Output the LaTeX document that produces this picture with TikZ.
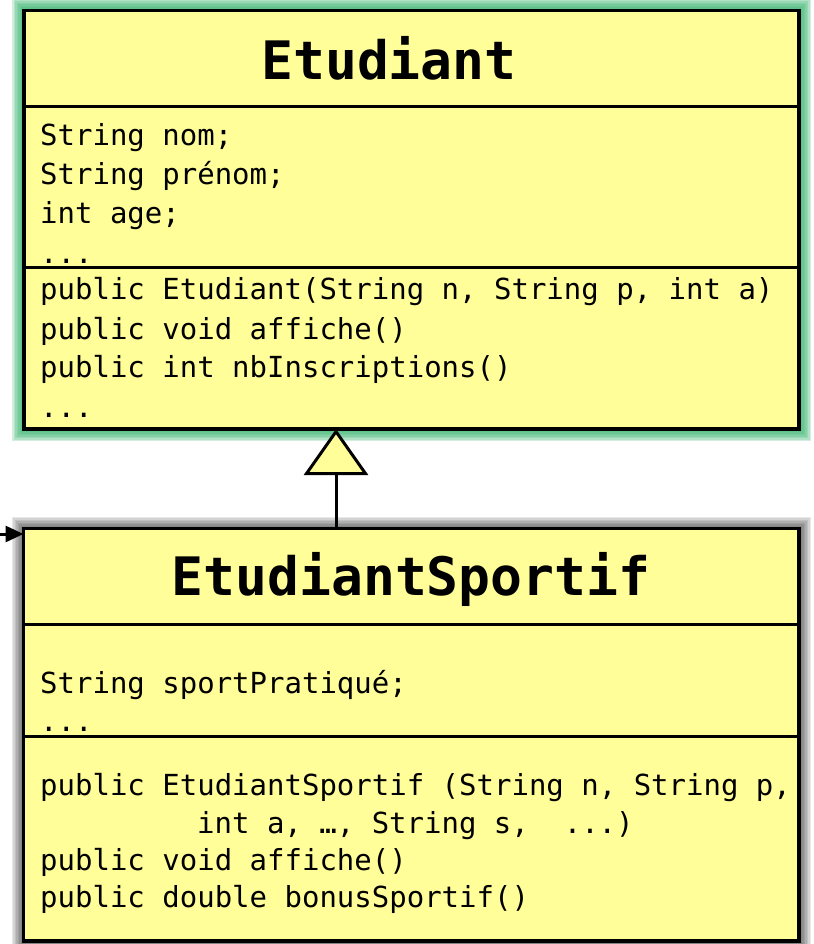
\documentclass[tikz,border=0pt]{standalone}
\usepackage{fontspec}
\newfontfamily\codefont{DejaVu Sans Mono}
\usetikzlibrary{arrows.meta}
\pgfdeclarelayer{background}
\pgfsetlayers{background,main}
\definecolor{umlyellow}{RGB}{255,254,153}
\definecolor{glowgreen}{RGB}{70,185,120}
\begin{document}
\begin{tikzpicture}[x=1pt,y=-1pt,
  box/.style={draw=black, line width=3.2pt, fill=umlyellow, rectangle, inner sep=0pt, outer sep=0pt},
  code/.style={anchor=base west, inner sep=0pt, font=\codefont\fontsize{29}{39}\selectfont},
  titletext/.style={anchor=base, inner sep=0pt, font=\codefont\bfseries\fontsize{53}{60}\selectfont},
  sepline/.style={line width=3pt},
  connector/.style={line width=3pt}]
\useasboundingbox (0,0) rectangle (813,944);

% class boxes
\node[box, anchor=north west, minimum width=775pt, minimum height=418.5pt] (etudiant) at (24,10.5) {};
\node[box, anchor=north west, minimum width=775.5pt, minimum height=412.5pt] (sportif) at (23.5,528.5) {};

% glows and shadows
\begin{pgfonlayer}{background}
  \foreach \i in {12,10.5,9,7.5,6,4.5,3} {
    \fill[glowgreen, opacity=0.24] ([shift={(-\i,-\i)}]etudiant.north west) rectangle ([shift={(\i,\i)}]etudiant.south east);
    \fill[black, opacity=0.09] ([shift={(-\i,-\i)}]sportif.north west) rectangle ([shift={(\i,\i)}]sportif.south east);
  }
  \fill[black] ([shift={(2,2)}]etudiant.north west) rectangle ([shift={(2.4,2.4)}]etudiant.south east);
\end{pgfonlayer}

% Etudiant
\node[titletext] (t1) at (389,80) {Etudiant};
\draw[sepline] (etudiant.west |- 0,107) -- (etudiant.east |- 0,107);
\node[code] (a1) at (40,146) {String nom;};
\node[code] (a2) at (40,184) {String prénom;};
\node[code] (a3) at (40,223) {int age;};
\node[code] (a4) at (40,263) {...};
\draw[sepline] (etudiant.west |- 0,267) -- (etudiant.east |- 0,267);
\node[code] (m1) at (40,299) {public Etudiant(String n, String p, int a)};
\node[code] (m2) at (40,339) {public void affiche()};
\node[code] (m3) at (40,377) {public int nbInscriptions()};
\node[code] (m4) at (40,417) {...};

% EtudiantSportif
\node[titletext] (t2) at (411,595) {EtudiantSportif};
\draw[sepline] (sportif.west |- 0,624) -- (sportif.east |- 0,624);
\node[code] (b1) at (40,693) {String sportPratiqué;};
\node[code] (b2) at (40,731) {...};
\draw[sepline] (sportif.west |- 0,736) -- (sportif.east |- 0,736);
\node[code] (n1) at (40,795) {public EtudiantSportif (String n, String p,};
\node[code] (n2) at (197,833) {int a, …, String s,\ \ ...)};
\node[code] (n3) at (40,870) {public void affiche()};
\node[code] (n4) at (40,907) {public double bonusSportif()};

% inheritance arrow
\draw[connector, -{Triangle[fill=umlyellow, length=46pt, width=64pt, line join=miter]}]
  (sportif.north -| 336,0) -- (etudiant.south -| 336,0);

% small incoming arrow
\coordinate (src) at (0,534);
\draw[connector, -{Stealth[length=18pt, width=16pt, inset=0pt]}] (src) -- (src -| sportif.west);
\end{tikzpicture}
\end{document}
